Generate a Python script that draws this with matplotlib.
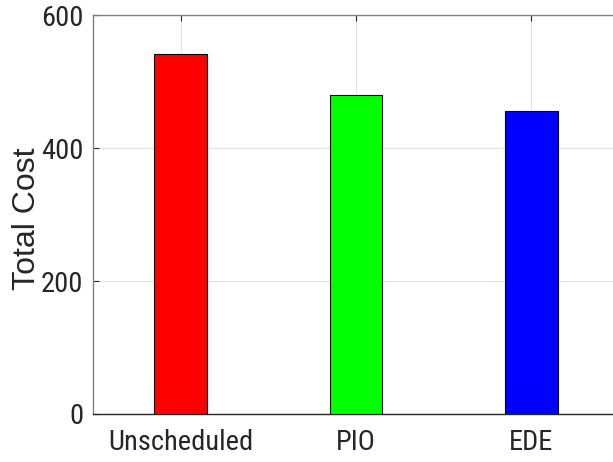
import matplotlib
matplotlib.use("Agg")
import matplotlib.pyplot as plt

plt.rcParams['font.family'] = ['Roboto Condensed', 'Liberation Sans', 'DejaVu Sans']

categories = ["Unscheduled", "PIO", "EDE"]
values = [541, 479, 455]
colors = ["#ff0000", "#00ff00", "#0000ff"]
yticks = [0, 200, 400, 600]

fig = plt.figure(figsize=(6.13, 4.62), dpi=100)
ax = fig.add_axes([0.1517, 0.1039, 0.858, 0.8636])
x = list(range(1, len(categories) + 1))
ax.bar(x, values, width=0.30, color=colors, edgecolor="black", linewidth=0.8, zorder=3)
ax.set_xlim(0.5, 3.5)
ax.set_ylim(0, 600)
ax.set_xticks(x)
ax.set_xticklabels(categories)
ax.set_yticks(yticks)
ax.grid(True, color="#e3e3e3", linewidth=0.8, zorder=0)
ax.set_axisbelow(True)
for s in ["left", "top"]:
    ax.spines[s].set_color("#808080")
    ax.spines[s].set_linewidth(1.0)
ax.spines["bottom"].set_color("#262626")
ax.spines["bottom"].set_linewidth(1.0)
ax.spines["right"].set_visible(False)
ax.tick_params(axis="both", direction="in", length=4, color="#262626", labelsize=20.5, labelcolor="#262626")
ax.tick_params(axis="x", top=True, pad=11)
ax.tick_params(axis="y", pad=7)
ax.set_ylabel("Total Cost", fontsize=23, color="#262626", family=['Liberation Sans', 'DejaVu Sans'])
ax.yaxis.set_label_coords(-0.097, 0.489)
fig.savefig("out.png", dpi=100)
